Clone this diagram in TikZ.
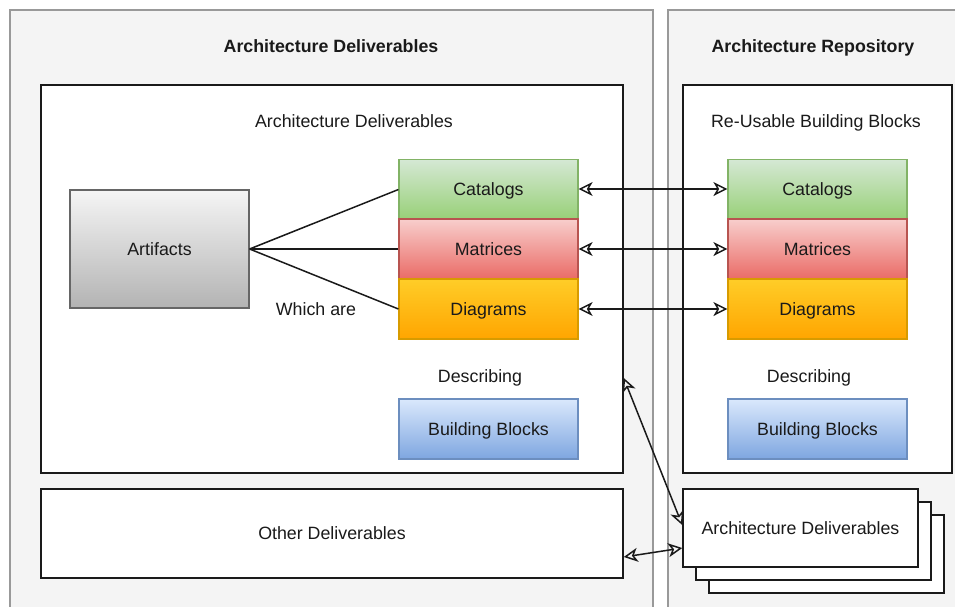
\documentclass[tikz,border=0pt]{standalone}
\usepackage{fontspec}
\setmainfont{Liberation Sans}
\usetikzlibrary{arrows.meta}
\definecolor{contfill}{HTML}{F4F4F4}
\definecolor{contline}{HTML}{999999}
\definecolor{grayT}{HTML}{F5F5F5}
\definecolor{grayB}{HTML}{B3B3B3}
\definecolor{grayL}{HTML}{666666}
\definecolor{greenT}{HTML}{D5E8D4}
\definecolor{greenB}{HTML}{97D077}
\definecolor{greenL}{HTML}{82B366}
\definecolor{redT}{HTML}{F8CECC}
\definecolor{redB}{HTML}{EA6B66}
\definecolor{redL}{HTML}{B85450}
\definecolor{orT}{HTML}{FFCD28}
\definecolor{orB}{HTML}{FFA500}
\definecolor{orL}{HTML}{D79B00}
\definecolor{blT}{HTML}{DAE8FC}
\definecolor{blB}{HTML}{7EA6E0}
\definecolor{blL}{HTML}{6C8EBF}
\definecolor{ink}{HTML}{1A1A1A}
\tikzset{
  every node/.style={font=\fontsize{17.8}{21}\selectfont, text=ink, inner sep=0pt, text height=12.8pt, text depth=0pt},
  cont/.style={draw=contline, fill=contfill, line width=1.5pt},
  wbox/.style={draw=ink, fill=white, line width=1.5pt, rectangle},
  cell/.style={rectangle, minimum width=179pt, minimum height=60pt, line width=1.2pt},
  artbox/.style={cell, minimum height=118pt, draw=grayL, top color=grayT, bottom color=grayB},
  greenbox/.style={cell, draw=greenL, top color=greenT, bottom color=greenB},
  redbox/.style={cell, draw=redL, top color=redT, bottom color=redB},
  orbox/.style={cell, draw=orL, top color=orT, bottom color=orB},
  bluebox/.style={cell, draw=blL, top color=blT, bottom color=blB},
  title/.style={font=\fontsize{17.8}{21}\selectfont\bfseries},
  link/.style={draw=ink, line width=1.5pt},
  tip/.tip={Stealth[open,length=14pt,width=14pt,inset=4pt,line width=1.5pt]},
  biarrow/.style={link, tip-tip}
}
\begin{document}
\begin{tikzpicture}[x=1pt,y=-1pt]
\useasboundingbox (0,0) rectangle (955,606);
\clip (0,0) rectangle (955,606);
\fill[white] (0,0) rectangle (955,606);
% containers
\draw[cont] (10,10) rectangle (653,630);
\draw[cont] (668,10) rectangle (980,630);
\node[title] (t1) at (331,46) {Architecture Deliverables};
\node[title] (t2) at (813,46) {Architecture Repository};
% inner boxes
\node[wbox, minimum width=582pt, minimum height=388pt] (innerL) at (332,279) {};
\node[wbox, minimum width=269pt, minimum height=388pt] (innerR) at (817.5,279) {};
\node (lblL) at (354,121) {Architecture Deliverables};
\node (lblR) at (816,121) {Re-Usable Building Blocks};
% left column
\node[artbox] (art) at (159.5,249) {Artifacts};
\node[greenbox] (catL) at (488.5,189.5) {Catalogs};
\node[redbox] (matL) at (488.5,249) {Matrices};
\node[orbox] (diaL) at (488.5,309) {Diagrams};
\node (which) at (316,309) {Which are};
\node (descL) at (480,376) {Describing};
\node[bluebox] (bbL) at (488.5,429) {Building Blocks};
% right column
\node[greenbox] (catR) at (817.5,189.5) {Catalogs};
\node[redbox] (matR) at (817.5,249) {Matrices};
\node[orbox] (diaR) at (817.5,309) {Diagrams};
\node (descR) at (809,376) {Describing};
\node[bluebox] (bbR) at (817.5,429) {Building Blocks};
% artifacts links
\draw[link] (art.east) -- (catL.west);
\draw[link] (art.east) -- (matL.west);
\draw[link] (art.east) -- (diaL.west);
% horizontal arrows
\draw[biarrow] ([yshift=0.5pt]catL.east) -- ([yshift=0.5pt]catR.west);
\draw[biarrow] (matL.east) -- (matR.west);
\draw[biarrow] (diaL.east) -- (diaR.west);
% bottom
\node[wbox, minimum width=582pt, minimum height=89pt] (other) at (332,533.5) {Other Deliverables};
\node[wbox, minimum width=235pt, minimum height=78pt] (stack3) at (826.5,554) {};
\node[wbox, minimum width=235pt, minimum height=78pt] (stack2) at (813.5,541) {};
\node[wbox, minimum width=235pt, minimum height=78pt] (stack) at (800.5,528) {Architecture Deliverables};
\draw[biarrow] ([yshift=-99pt]innerL.east) -- ([yshift=3pt]stack.west);
\draw[biarrow] ([yshift=-23.5pt]other.east) -- ([yshift=-20pt]stack.west);
\end{tikzpicture}
\end{document}
